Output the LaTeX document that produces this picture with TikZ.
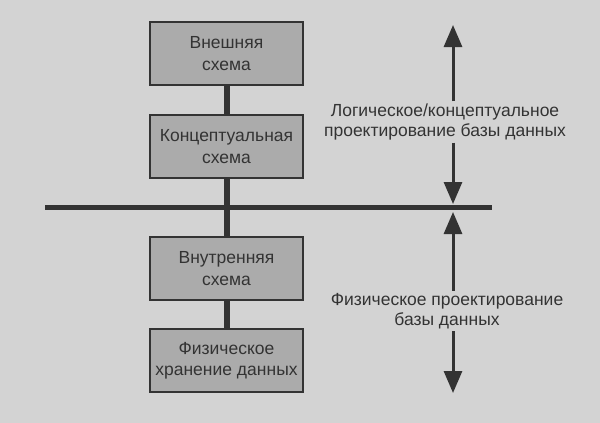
\documentclass[tikz,border=0pt]{standalone}
\usepackage{fontspec}
\setmainfont{Liberation Sans}
\usetikzlibrary{arrows.meta}

\definecolor{paper}{HTML}{D3D3D3}
\definecolor{boxgray}{HTML}{ABABAB}
\definecolor{ink}{HTML}{333333}

\begin{document}
\begin{tikzpicture}[x=1pt,y=-1pt,
    schema/.style={draw=ink, line width=2pt, fill=boxgray, text=ink,
      minimum width=153pt, minimum height=63pt, align=center,
      font=\fontsize{17.5}{21.5}\selectfont},
    link/.style={draw=ink, line width=6pt},
    phase/.style={text=ink, align=center, font=\fontsize{17.5}{20}\selectfont},
    span/.style={draw=ink, line width=3pt, -{Triangle[length=22pt,width=18pt]}}]
		% Page background and size
		\fill[paper] (0,0) rectangle (600,423);
		\useasboundingbox (0,0) rectangle (600,423);
		
		% Levels of the schema
		\node[schema] (ext) at (226.5,53.5) {Внешняя\\схема};
		\node[schema] (conc) at (226.5,146.5) {Концептуальная\\схема};
		\node[schema] (int) at (226.5,268.5) {Внутренняя\\схема};
		\node[schema] (phys) at (226.5,360.5) {Физическое\\хранение данных};
		
		% Dividing line between the two phases
		\coordinate (divL) at (45,207);
		\coordinate (divR) at (492,207);
		
		% Links between the levels
		\draw[link] (ext) -- (conc);
		\draw[link] (conc) -- (int);
		\draw[link] (int) -- (phys);
		\draw[ink, line width=5pt] (divL) -- (divR);
		
		% Logical design phase
		\node[phase] (logic) at (445,122) {Логическое/концептуальное\\проектирование базы данных};
		\coordinate (logicTop) at (453,25);
		\coordinate (logicBot) at (453,204);
		\draw[span] ([yshift=-1pt]logic.north -| logicTop) -- (logicTop);
		\draw[span] ([yshift=1pt]logic.south -| logicBot) -- (logicBot);
		
		% Physical design phase
		\node[phase] (physdesign) at (447,311) {Физическое проектирование\\базы данных};
		\coordinate (physTop) at (453,212);
		\coordinate (physBot) at (453,393);
		\draw[span] ([yshift=-1pt]physdesign.north -| physTop) -- (physTop);
		\draw[span] ([yshift=1pt]physdesign.south -| physBot) -- (physBot);
	\end{tikzpicture}
\end{document}
